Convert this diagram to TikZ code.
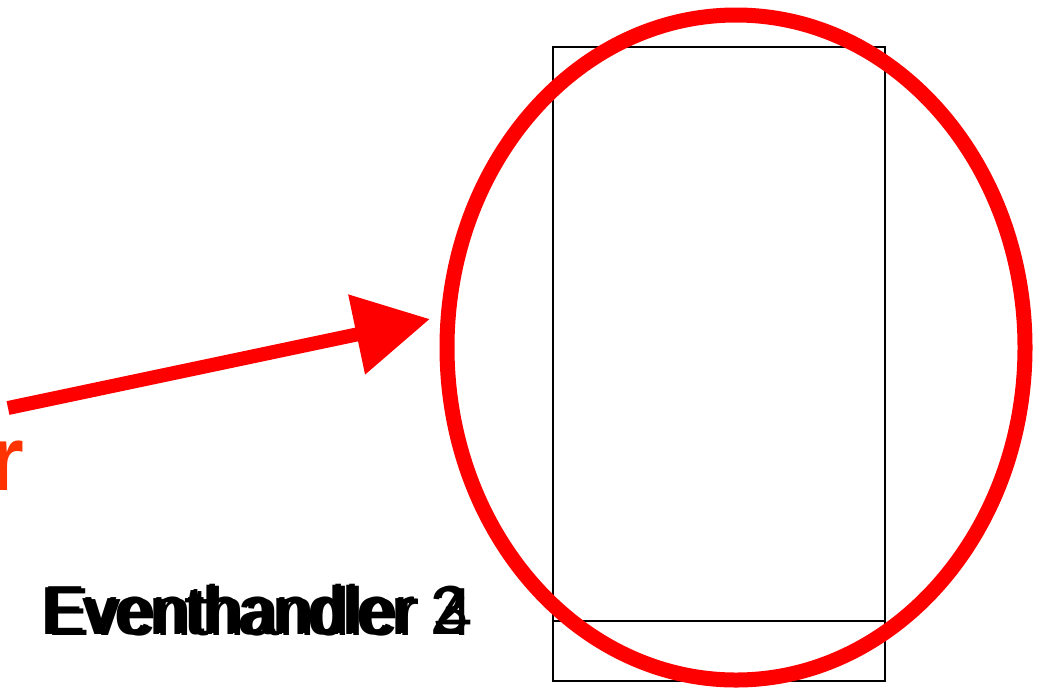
\documentclass[tikz,border=0pt]{standalone}
\usepackage{fontspec}
\setmainfont{Liberation Sans}
\usetikzlibrary{shapes.geometric,arrows.meta}

\definecolor{markred}{RGB}{255,0,0}
\definecolor{labelred}{RGB}{255,51,0}

\tikzset{
handlertext/.style={anchor=base west,inner sep=0pt,font=\fontsize{34}{37}\selectfont},
}

\begin{document}
\begin{tikzpicture}[x=0.5pt,y=-0.5pt]

\useasboundingbox (0,0) rectangle (1038,687);

%%%%%%%%%%%%%%%%%%%%%%%%%%%%%%%%%%%%%%%%%%%%%%%%%%%%%%
% PANEL
%%%%%%%%%%%%%%%%%%%%%%%%%%%%%%%%%%%%%%%%%%%%%%%%%%%%%%

\node[
draw,
line width=1pt,
anchor=north west,
inner sep=0pt,
minimum width=166pt,
minimum height=317pt
](panel)
at (552,46)
{};

\coordinate (divleft) at (552,621);
\coordinate (divright) at (884,621);

\draw[line width=1pt] (divleft)--(divright);

%%%%%%%%%%%%%%%%%%%%%%%%%%%%%%%%%%%%%%%%%%%%%%%%%%%%%%
% LABELS
%%%%%%%%%%%%%%%%%%%%%%%%%%%%%%%%%%%%%%%%%%%%%%%%%%%%%%

\node[handlertext](handlerb) at (40,634) {\scalebox{0.93}[1]{Eventhandler 2}};
\node[handlertext](handlerc) at (43,633) {\scalebox{0.93}[1]{Eventhandler 3}};
\node[handlertext](handlerd) at (47,635) {\scalebox{0.93}[1]{Eventhandler 4}};

\node[
anchor=base east,
inner sep=0pt,
text=labelred,
font=\fontsize{46}{50}\selectfont\bfseries
](cutlabel)
at (25,490)
{r};

%%%%%%%%%%%%%%%%%%%%%%%%%%%%%%%%%%%%%%%%%%%%%%%%%%%%%%
% HIGHLIGHT
%%%%%%%%%%%%%%%%%%%%%%%%%%%%%%%%%%%%%%%%%%%%%%%%%%%%%%

\node[
draw=markred,
ellipse,
line width=7.5pt,
inner sep=0pt,
minimum width=289pt,
minimum height=332.5pt
](ring)
at (736,347.5)
{};

\coordinate (tail) at (8,408);
\coordinate (tip) at (430,319);

\draw[
markred,
line width=7pt,
-{Triangle[length=37.5pt,width=39pt]}
](tail)--(tip);

\end{tikzpicture}
\end{document}
